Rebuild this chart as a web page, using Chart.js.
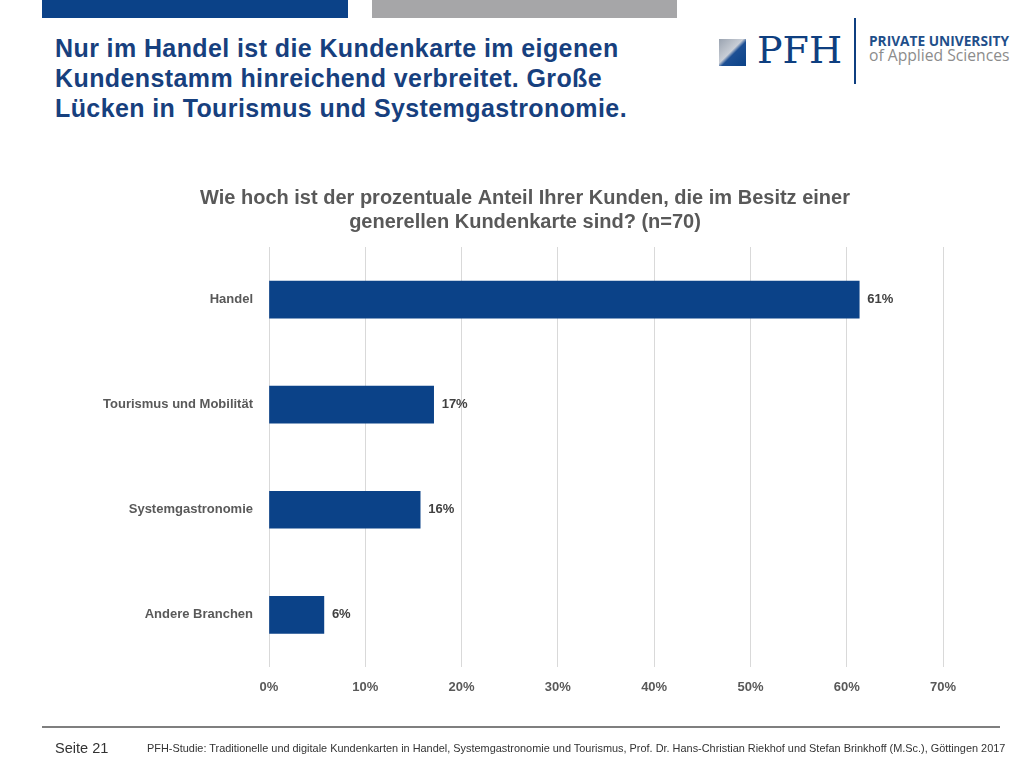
<!DOCTYPE html>
<html lang="de">
<head>
  <meta charset="UTF-8">
  <title>Kundenkarte im Kundenstamm</title>
  <script src="https://cdn.jsdelivr.net/npm/chart.js"></script>
  <style>
    body {
      margin: 0;
      width: 1030px;
      height: 770px;
      background: #fff;
      position: relative;
      overflow: hidden;
      font-family: "Liberation Sans", Arial, sans-serif;
    }
    .bar-blue { position: absolute; left: 42px; top: 0; width: 306px; height: 18px; background: #0b4288; }
    .bar-gray { position: absolute; left: 372px; top: 0; width: 305px; height: 18px; background: #a6a6a8; }
    h1 {
      position: absolute;
      left: 55px;
      top: 33px;
      margin: 0;
      font-size: 25px;
      line-height: 30px;
      letter-spacing: 0.4px;
      font-weight: bold;
      color: #17407e;
      white-space: nowrap;
    }
    .fit { position: absolute; white-space: nowrap; transform-origin: 0 0; }
    .logo-icon {
      position: absolute; left: 719px; top: 39px; width: 27px; height: 27px;
      background: linear-gradient(135deg, #9aa3b0 0%, #c9ced6 45%, #1d4f94 55%, #0b4288 100%);
    }
    .logo-pfh {
      position: absolute; left: 757px; top: 28px;
      font-family: "DejaVu Serif", "Liberation Serif", serif;
      font-size: 38px; color: #0f3f80;
    }
    .logo-line { position: absolute; left: 854px; top: 18px; width: 2px; height: 66px; background: #0f3f80; }
    .logo-t1 {
      left: 869px; top: 31px;
      font-family: "Open Sans", sans-serif;
      font-size: 14px; font-weight: bold; color: #1f4f8a;
    }
    .logo-t2 {
      left: 869px; top: 44px;
      font-family: "Open Sans", sans-serif;
      font-size: 16px; color: #8c8c8c;
    }
    #chartBox { position: absolute; left: 0; top: 0; width: 1030px; height: 770px; }
    .rule { position: absolute; left: 42px; top: 726px; width: 958px; height: 2px; background: #7f7f7f; }
    .page {
      left: 55px; top: 740px;
      font-size: 14px; color: #333;
    }
    .source {
      left: 147px; top: 742px;
      font-size: 11px; color: #333;
    }
  </style>
</head>
<body>
  <div class="bar-blue"></div>
  <div class="bar-gray"></div>
  <h1>Nur im Handel ist die Kundenkarte im eigenen<br>Kundenstamm hinreichend verbreitet. Große<br>Lücken in Tourismus und Systemgastronomie.</h1>

  <div class="logo-icon"></div>
  <div class="logo-pfh">PFH</div>
  <div class="logo-line"></div>
  <div class="fit logo-t1" data-w="140">PRIVATE UNIVERSITY</div>
  <div class="fit logo-t2" data-w="140">of Applied Sciences</div>

  <div id="chartBox"><canvas id="chart"></canvas></div>

  <div class="rule"></div>
  <div class="fit page" data-w="53">Seite 21</div>
  <div class="fit source" data-w="858">PFH-Studie: Traditionelle und digitale Kundenkarten in Handel, Systemgastronomie und Tourismus, Prof. Dr. Hans-Christian Riekhof und Stefan Brinkhoff (M.Sc.), Göttingen 2017</div>

  <script>
    const categories = ['Handel', 'Tourismus und Mobilität', 'Systemgastronomie', 'Andere Branchen'];
    const shares = [61.3, 17.1, 15.7, 5.7];
    const tickValues = [0, 10, 20, 30, 40, 50, 60, 70];
    const chartTitle = ['Wie hoch ist der prozentuale Anteil Ihrer Kunden, die im Besitz einer', 'generellen Kundenkarte sind? (n=70)'];

    // squeeze narrow-font texts to their width in the slide
    document.querySelectorAll('.fit').forEach(el => {
      el.style.transform = 'scaleX(' + (el.dataset.w / el.scrollWidth) + ')';
    });

    const labelFont = { family: '"Liberation Sans", Arial, sans-serif', size: 13, weight: 'bold' };

    // question above the plot; the slide centres it a bit right of the canvas middle
    const questionTitle = {
      id: 'questionTitle',
      afterDraw(chart) {
        const ctx = chart.ctx;
        ctx.save();
        ctx.font = 'bold 20px "Liberation Sans", Arial, sans-serif';
        ctx.fillStyle = '#595959';
        ctx.textAlign = 'center';
        ctx.textBaseline = 'middle';
        chartTitle.forEach((line, i) => {
          ctx.fillText(line, 525, chart.chartArea.top - 49 + i * 24);
        });
        ctx.restore();
      }
    };

    // writes the rounded percent just right of each bar
    const barLabels = {
      id: 'barLabels',
      afterDatasetsDraw(chart) {
        const ctx = chart.ctx;
        const meta = chart.getDatasetMeta(0);
        ctx.save();
        ctx.font = 'bold 13px "Liberation Sans", Arial, sans-serif';
        ctx.fillStyle = '#404040';
        ctx.textBaseline = 'middle';
        meta.data.forEach((bar, i) => {
          ctx.fillText(Math.round(shares[i]) + '%', bar.x + 8, bar.y);
        });
        ctx.restore();
      }
    };

    new Chart(document.getElementById('chart'), {
      type: 'bar',
      data: {
        labels: categories,
        datasets: [{
          data: shares,
          backgroundColor: '#0b4288',
          barThickness: 37,
          categoryPercentage: 1
        }]
      },
      options: {
        indexAxis: 'y',
        responsive: true,
        maintainAspectRatio: false,
        animation: false,
        layout: { padding: { left: 87, right: 87, top: 247, bottom: 63 } },
        plugins: {
          legend: { display: false },
          tooltip: { enabled: false },
          title: { display: false }
        },
        scales: {
          x: {
            min: 0,
            max: 70,
            afterBuildTicks(scale) {
              scale.ticks = tickValues.map(v => ({ value: v }));
            },
            ticks: {
              callback: v => v + '%',
              color: '#595959',
              font: labelFont,
              padding: 12,
              maxRotation: 0
            },
            grid: { color: '#d9d9d9', drawTicks: false },
            border: { display: false }
          },
          y: {
            afterFit(scale) { scale.width = 182; },
            ticks: {
              color: '#595959',
              font: labelFont,
              padding: 16
            },
            grid: { display: false, drawTicks: false },
            border: { display: false }
          }
        }
      },
      plugins: [barLabels, questionTitle]
    });
  </script>
</body>
</html>
